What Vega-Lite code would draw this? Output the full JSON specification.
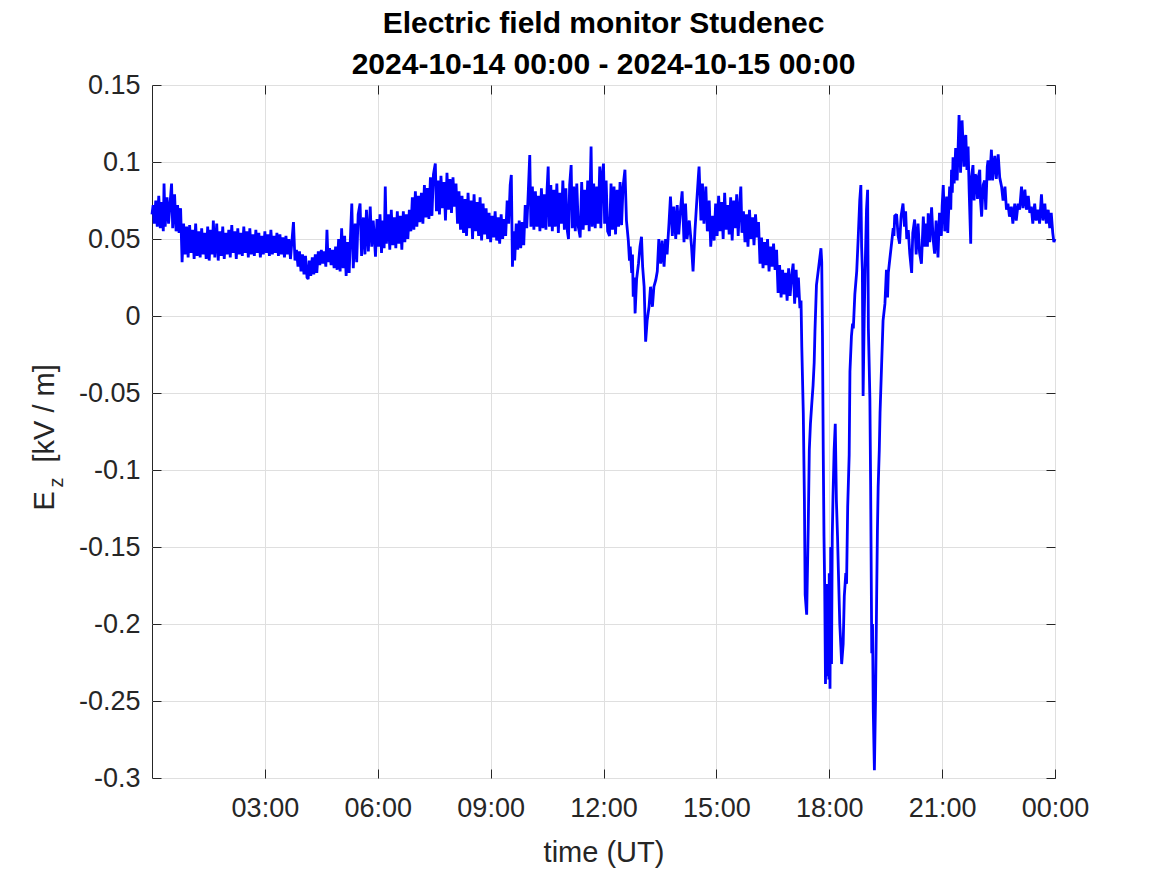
{
"$schema":"https://vega.github.io/schema/vega-lite/v6.json",
"width":903,"height":693,
"autosize":{"type":"none"},
"padding":{"left":152,"top":85,"right":112,"bottom":97},
"background":"white",
"config":{"view":{"stroke":"#262626","strokeWidth":1},"font":"Liberation Sans"},
"title":{"text":["Electric field monitor Studenec","2024-10-14 00:00 - 2024-10-15 00:00"],"font":"Liberation Sans","fontSize":30,"fontWeight":"bold","color":"#000000","lineHeight":41,"anchor":"middle","offset":-9},
"data":{"values":[
{"hour":0,"ez":0.066},{"hour":0.03,"ez":0.072},{"hour":0.06,"ez":0.06},{"hour":0.1,"ez":0.075},{"hour":0.14,"ez":0.058},{"hour":0.18,"ez":0.078},{"hour":0.22,"ez":0.057},{"hour":0.26,"ez":0.074},{"hour":0.3,"ez":0.055},{"hour":0.32,"ez":0.086},{"hour":0.35,"ez":0.058},{"hour":0.4,"ez":0.077},{"hour":0.44,"ez":0.06},{"hour":0.48,"ez":0.073},{"hour":0.52,"ez":0.086},{"hour":0.55,"ez":0.057},{"hour":0.6,"ez":0.079},{"hour":0.64,"ez":0.055},{"hour":0.68,"ez":0.072},{"hour":0.72,"ez":0.054},{"hour":0.76,"ez":0.07},{"hour":0.8,"ez":0.035},{"hour":0.84,"ez":0.06},
{"hour":0.88,"ez":0.04},{"hour":0.92,"ez":0.058},{"hour":0.96,"ez":0.038},{"hour":1.0,"ez":0.059},{"hour":1.04,"ez":0.041},{"hour":1.08,"ez":0.056},{"hour":1.12,"ez":0.037},{"hour":1.16,"ez":0.06},{"hour":1.2,"ez":0.039},{"hour":1.24,"ez":0.055},{"hour":1.28,"ez":0.038},{"hour":1.32,"ez":0.057},{"hour":1.36,"ez":0.04},{"hour":1.4,"ez":0.054},{"hour":1.44,"ez":0.037},{"hour":1.48,"ez":0.058},{"hour":1.52,"ez":0.036},{"hour":1.56,"ez":0.056},{"hour":1.6,"ez":0.04},{"hour":1.63,"ez":0.062},{"hour":1.67,"ez":0.038},{"hour":1.72,"ez":0.06},{"hour":1.76,"ez":0.036},{"hour":1.8,"ez":0.055},{"hour":1.84,"ez":0.039},{"hour":1.88,"ez":0.058},{"hour":1.92,"ez":0.037},{"hour":1.96,"ez":0.054},{"hour":2.0,"ez":0.04},{"hour":2.04,"ez":0.056},{"hour":2.08,"ez":0.038},{"hour":2.12,"ez":0.059},{"hour":2.16,"ez":0.041},{"hour":2.2,"ez":0.055},{"hour":2.24,"ez":0.037},{"hour":2.28,"ez":0.057},{"hour":2.32,"ez":0.04},{"hour":2.36,"ez":0.054},{"hour":2.4,"ez":0.039},{"hour":2.44,"ez":0.058},{"hour":2.48,"ez":0.041},{"hour":2.52,"ez":0.055},{"hour":2.56,"ez":0.038},{"hour":2.6,"ez":0.057},{"hour":2.64,"ez":0.04},{"hour":2.68,"ez":0.053},{"hour":2.72,"ez":0.039},{"hour":2.76,"ez":0.056},{"hour":2.8,"ez":0.041},{"hour":2.84,"ez":0.054},{"hour":2.88,"ez":0.038},{"hour":2.92,"ez":0.052},{"hour":2.96,"ez":0.04},
{"hour":3.0,"ez":0.055},{"hour":3.04,"ez":0.041},{"hour":3.08,"ez":0.053},{"hour":3.12,"ez":0.039},{"hour":3.16,"ez":0.056},{"hour":3.2,"ez":0.04},{"hour":3.24,"ez":0.052},{"hour":3.28,"ez":0.041},{"hour":3.32,"ez":0.054},{"hour":3.36,"ez":0.039},{"hour":3.4,"ez":0.053},{"hour":3.44,"ez":0.04},{"hour":3.48,"ez":0.051},{"hour":3.52,"ez":0.038},{"hour":3.56,"ez":0.052},{"hour":3.6,"ez":0.04},{"hour":3.64,"ez":0.05},{"hour":3.68,"ez":0.037},{"hour":3.72,"ez":0.049},{"hour":3.76,"ez":0.061},{"hour":3.8,"ez":0.036},
{"hour":3.84,"ez":0.043},{"hour":3.88,"ez":0.032},{"hour":3.92,"ez":0.042},{"hour":3.96,"ez":0.029},{"hour":4.0,"ez":0.04},{"hour":4.04,"ez":0.027},{"hour":4.08,"ez":0.039},{"hour":4.12,"ez":0.025},{"hour":4.15,"ez":0.024},{"hour":4.18,"ez":0.036},{"hour":4.22,"ez":0.026},{"hour":4.26,"ez":0.038},{"hour":4.3,"ez":0.027},{"hour":4.34,"ez":0.04},{"hour":4.38,"ez":0.028},
{"hour":4.42,"ez":0.042},{"hour":4.46,"ez":0.033},{"hour":4.5,"ez":0.043},{"hour":4.54,"ez":0.034},{"hour":4.58,"ez":0.042},{"hour":4.62,"ez":0.032},{"hour":4.65,"ez":0.056},{"hour":4.68,"ez":0.035},{"hour":4.72,"ez":0.044},{"hour":4.76,"ez":0.033},{"hour":4.8,"ez":0.043},{"hour":4.84,"ez":0.031},{"hour":4.88,"ez":0.045},
{"hour":4.92,"ez":0.03},{"hour":4.96,"ez":0.05},{"hour":5.0,"ez":0.029},{"hour":5.04,"ez":0.057},{"hour":5.08,"ez":0.031},{"hour":5.12,"ez":0.052},{"hour":5.16,"ez":0.026},{"hour":5.2,"ez":0.048},{"hour":5.24,"ez":0.028},{"hour":5.28,"ez":0.055},
{"hour":5.31,"ez":0.073},{"hour":5.35,"ez":0.031},{"hour":5.4,"ez":0.06},{"hour":5.44,"ez":0.035},{"hour":5.48,"ez":0.066},{"hour":5.53,"ez":0.073},{"hour":5.57,"ez":0.039},{"hour":5.62,"ez":0.064},{"hour":5.66,"ez":0.04},{"hour":5.7,"ez":0.069},{"hour":5.75,"ez":0.042},{"hour":5.8,"ez":0.071},{"hour":5.84,"ez":0.045},{"hour":5.88,"ez":0.062},{"hour":5.94,"ez":0.0385},
{"hour":5.98,"ez":0.063},{"hour":6.02,"ez":0.045},{"hour":6.06,"ez":0.066},{"hour":6.1,"ez":0.041},{"hour":6.14,"ez":0.062},{"hour":6.17,"ez":0.044},{"hour":6.2,"ez":0.084},{"hour":6.23,"ez":0.047},{"hour":6.28,"ez":0.066},{"hour":6.32,"ez":0.043},{"hour":6.36,"ez":0.069},{"hour":6.4,"ez":0.046},{"hour":6.44,"ez":0.064},{"hour":6.48,"ez":0.044},{"hour":6.52,"ez":0.068},{"hour":6.56,"ez":0.047},{"hour":6.6,"ez":0.065},{"hour":6.64,"ez":0.043},{"hour":6.68,"ez":0.068},{"hour":6.72,"ez":0.048},{"hour":6.76,"ez":0.066},{"hour":6.8,"ez":0.05},{"hour":6.84,"ez":0.069},
{"hour":6.88,"ez":0.055},{"hour":6.92,"ez":0.077},{"hour":6.96,"ez":0.056},{"hour":7.0,"ez":0.081},{"hour":7.04,"ez":0.058},{"hour":7.08,"ez":0.078},{"hour":7.12,"ez":0.061},{"hour":7.16,"ez":0.08},{"hour":7.2,"ez":0.06},{"hour":7.24,"ez":0.085},{"hour":7.28,"ez":0.064},{"hour":7.32,"ez":0.083},{"hour":7.36,"ez":0.063},
{"hour":7.4,"ez":0.09},{"hour":7.44,"ez":0.065},{"hour":7.48,"ez":0.092},{"hour":7.53,"ez":0.099},{"hour":7.56,"ez":0.068},{"hour":7.6,"ez":0.088},{"hour":7.64,"ez":0.066},{"hour":7.68,"ez":0.091},{"hour":7.72,"ez":0.07},{"hour":7.76,"ez":0.087},{"hour":7.8,"ez":0.062},{"hour":7.84,"ez":0.093},{"hour":7.88,"ez":0.069},{"hour":7.92,"ez":0.089},{"hour":7.96,"ez":0.067},{"hour":8.0,"ez":0.09},{"hour":8.04,"ez":0.071},{"hour":8.08,"ez":0.086},
{"hour":8.12,"ez":0.06},{"hour":8.16,"ez":0.081},{"hour":8.2,"ez":0.056},{"hour":8.24,"ez":0.078},{"hour":8.28,"ez":0.054},{"hour":8.32,"ez":0.076},{"hour":8.36,"ez":0.052},{"hour":8.4,"ez":0.08},{"hour":8.44,"ez":0.057},{"hour":8.48,"ez":0.075},{"hour":8.52,"ez":0.05},{"hour":8.56,"ez":0.079},{"hour":8.6,"ez":0.055},{"hour":8.64,"ez":0.074},{"hour":8.68,"ez":0.052},{"hour":8.72,"ez":0.077},{"hour":8.76,"ez":0.049},{"hour":8.8,"ez":0.073},{"hour":8.84,"ez":0.053},{"hour":8.88,"ez":0.07},
{"hour":8.92,"ez":0.05},{"hour":8.96,"ez":0.067},{"hour":9.0,"ez":0.048},{"hour":9.04,"ez":0.065},{"hour":9.08,"ez":0.051},{"hour":9.12,"ez":0.068},{"hour":9.16,"ez":0.049},{"hour":9.2,"ez":0.064},{"hour":9.24,"ez":0.047},{"hour":9.28,"ez":0.066},{"hour":9.32,"ez":0.05},{"hour":9.36,"ez":0.063},{"hour":9.4,"ez":0.052},{"hour":9.44,"ez":0.075},{"hour":9.48,"ez":0.06},{"hour":9.52,"ez":0.085},{"hour":9.55,"ez":0.0916},{"hour":9.58,"ez":0.032},{"hour":9.61,"ez":0.055},{"hour":9.64,"ez":0.036},{"hour":9.68,"ez":0.06},{"hour":9.72,"ez":0.043},{"hour":9.76,"ez":0.062},{"hour":9.8,"ez":0.044},{"hour":9.84,"ez":0.061},{"hour":9.88,"ez":0.046},
{"hour":9.92,"ez":0.072},{"hour":9.96,"ez":0.057},{"hour":10.0,"ez":0.08},{"hour":10.04,"ez":0.1045},{"hour":10.07,"ez":0.058},{"hour":10.11,"ez":0.084},{"hour":10.15,"ez":0.056},{"hour":10.19,"ez":0.081},{"hour":10.23,"ez":0.058},{"hour":10.27,"ez":0.078},{"hour":10.31,"ez":0.055},{"hour":10.35,"ez":0.083},{"hour":10.39,"ez":0.057},{"hour":10.43,"ez":0.079},{"hour":10.47,"ez":0.056},{"hour":10.5,"ez":0.082},{"hour":10.53,"ez":0.097},{"hour":10.56,"ez":0.058},
{"hour":10.6,"ez":0.085},{"hour":10.64,"ez":0.055},{"hour":10.68,"ez":0.082},{"hour":10.72,"ez":0.058},{"hour":10.76,"ez":0.086},{"hour":10.8,"ez":0.054},{"hour":10.84,"ez":0.08},{"hour":10.88,"ez":0.06},{"hour":10.92,"ez":0.088},{"hour":10.96,"ez":0.056},{"hour":11.0,"ez":0.083},{"hour":11.04,"ez":0.055},{"hour":11.07,"ez":0.05},{"hour":11.1,"ez":0.085},{"hour":11.14,"ez":0.098},{"hour":11.17,"ez":0.057},{"hour":11.21,"ez":0.084},{"hour":11.25,"ez":0.055},{"hour":11.29,"ez":0.086},{"hour":11.33,"ez":0.058},{"hour":11.38,"ez":0.051},{"hour":11.42,"ez":0.087},{"hour":11.46,"ez":0.056},{"hour":11.5,"ez":0.082},{"hour":11.54,"ez":0.059},{"hour":11.58,"ez":0.088},{"hour":11.62,"ez":0.055},{"hour":11.67,"ez":0.11},{"hour":11.7,"ez":0.058},{"hour":11.74,"ez":0.086},{"hour":11.78,"ez":0.057},{"hour":11.82,"ez":0.084},{"hour":11.86,"ez":0.06},{"hour":11.9,"ez":0.097},{"hour":11.93,"ez":0.057},{"hour":11.96,"ez":0.09},
{"hour":12.0,"ez":0.099},{"hour":12.03,"ez":0.06},{"hour":12.07,"ez":0.088},{"hour":12.11,"ez":0.055},{"hour":12.16,"ez":0.052},{"hour":12.2,"ez":0.086},{"hour":12.24,"ez":0.056},{"hour":12.28,"ez":0.084},{"hour":12.32,"ez":0.053},{"hour":12.36,"ez":0.082},{"hour":12.4,"ez":0.058},{"hour":12.44,"ez":0.087},{"hour":12.48,"ez":0.059},{"hour":12.52,"ez":0.084},{"hour":12.57,"ez":0.095},{"hour":12.61,"ez":0.062},
{"hour":12.66,"ez":0.049},{"hour":12.69,"ez":0.036},{"hour":12.71,"ez":0.045},{"hour":12.75,"ez":0.028},{"hour":12.77,"ez":0.04},{"hour":12.79,"ez":0.0125},{"hour":12.82,"ez":0.025},{"hour":12.84,"ez":0.0017},{"hour":12.88,"ez":0.024},{"hour":12.93,"ez":0.034},{"hour":12.97,"ez":0.045},{"hour":13.01,"ez":0.0515},{"hour":13.04,"ez":0.032},{"hour":13.08,"ez":0.019},{"hour":13.12,"ez":-0.0167},{"hour":13.16,"ez":-0.003},{"hour":13.21,"ez":0.006},{"hour":13.25,"ez":0.019},{"hour":13.3,"ez":0.006},{"hour":13.34,"ez":0.019},{"hour":13.39,"ez":0.0234},{"hour":13.43,"ez":0.029},{"hour":13.47,"ez":0.05},{"hour":13.52,"ez":0.034},{"hour":13.56,"ez":0.049},{"hour":13.61,"ez":0.032},{"hour":13.65,"ez":0.05},{"hour":13.69,"ez":0.04},{"hour":13.74,"ez":0.06},{"hour":13.78,"ez":0.0775},{"hour":13.83,"ez":0.052},{"hour":13.87,"ez":0.071},{"hour":13.92,"ez":0.05},{"hour":13.96,"ez":0.072},{"hour":14.0,"ez":0.053},{"hour":14.05,"ez":0.07},{"hour":14.09,"ez":0.081},{"hour":14.14,"ez":0.048},{"hour":14.18,"ez":0.073},{"hour":14.22,"ez":0.05},{"hour":14.28,"ez":0.062},{"hour":14.34,"ez":0.045},{"hour":14.38,"ez":0.029},{"hour":14.43,"ez":0.055},{"hour":14.47,"ez":0.071},{"hour":14.52,"ez":0.09},{"hour":14.54,"ez":0.097},{"hour":14.59,"ez":0.062},{"hour":14.63,"ez":0.086},{"hour":14.67,"ez":0.06},{"hour":14.72,"ez":0.084},{"hour":14.76,"ez":0.055},{"hour":14.81,"ez":0.075},{"hour":14.85,"ez":0.045},{"hour":14.9,"ez":0.065},{"hour":14.94,"ez":0.049},
{"hour":14.98,"ez":0.073},{"hour":15.02,"ez":0.052},{"hour":15.06,"ez":0.078},{"hour":15.1,"ez":0.055},{"hour":15.14,"ez":0.074},{"hour":15.18,"ez":0.05},{"hour":15.22,"ez":0.08},{"hour":15.26,"ez":0.056},{"hour":15.3,"ez":0.072},{"hour":15.34,"ez":0.053},{"hour":15.38,"ez":0.077},{"hour":15.42,"ez":0.049},{"hour":15.46,"ez":0.075},{"hour":15.5,"ez":0.057},{"hour":15.54,"ez":0.079},{"hour":15.58,"ez":0.052},{"hour":15.62,"ez":0.073},{"hour":15.65,"ez":0.084},{"hour":15.68,"ez":0.054},
{"hour":15.72,"ez":0.068},{"hour":15.76,"ez":0.048},{"hour":15.8,"ez":0.066},{"hour":15.84,"ez":0.045},{"hour":15.88,"ez":0.069},{"hour":15.92,"ez":0.05},{"hour":15.96,"ez":0.064},{"hour":16.0,"ez":0.046},{"hour":16.04,"ez":0.066},{"hour":16.08,"ez":0.051},{"hour":16.12,"ez":0.061},
{"hour":16.16,"ez":0.034},{"hour":16.2,"ez":0.051},{"hour":16.24,"ez":0.031},{"hour":16.28,"ez":0.048},{"hour":16.32,"ez":0.033},{"hour":16.36,"ez":0.05},{"hour":16.4,"ez":0.029},{"hour":16.44,"ez":0.045},{"hour":16.48,"ez":0.032},{"hour":16.52,"ez":0.047},{"hour":16.56,"ez":0.03},{"hour":16.6,"ez":0.043},
{"hour":16.64,"ez":0.015},{"hour":16.68,"ez":0.033},{"hour":16.72,"ez":0.012},{"hour":16.76,"ez":0.03},{"hour":16.8,"ez":0.014},{"hour":16.84,"ez":0.028},{"hour":16.88,"ez":0.01},{"hour":16.92,"ez":0.031},{"hour":16.96,"ez":0.013},{"hour":17.0,"ez":0.026},{"hour":17.04,"ez":0.034},{"hour":17.08,"ez":0.008},{"hour":17.12,"ez":0.03},{"hour":17.15,"ez":0.012},{"hour":17.18,"ez":0.025},{"hour":17.22,"ez":0.005},
{"hour":17.25,"ez":0.01},{"hour":17.27,"ez":-0.02},{"hour":17.31,"ez":-0.063},{"hour":17.34,"ez":-0.12},{"hour":17.36,"ez":-0.181},{"hour":17.4,"ez":-0.194},{"hour":17.44,"ez":-0.139},{"hour":17.47,"ez":-0.087},{"hour":17.5,"ez":-0.07},{"hour":17.53,"ez":-0.059},{"hour":17.57,"ez":-0.045},{"hour":17.6,"ez":-0.03},{"hour":17.62,"ez":-0.01},{"hour":17.66,"ez":0.02},{"hour":17.71,"ez":0.03},{"hour":17.75,"ez":0.038},{"hour":17.78,"ez":0.044},{"hour":17.8,"ez":0.035},{"hour":17.82,"ez":-0.013},{"hour":17.84,"ez":-0.087},{"hour":17.86,"ez":-0.143},{"hour":17.88,"ez":-0.178},{"hour":17.9,"ez":-0.239},{"hour":17.93,"ez":-0.174},{"hour":17.95,"ez":-0.234},{"hour":17.97,"ez":-0.182},{"hour":17.99,"ez":-0.236},{"hour":18.0,"ez":-0.167},{"hour":18.02,"ez":-0.242},{"hour":18.04,"ez":-0.15},{"hour":18.06,"ez":-0.226},{"hour":18.08,"ez":-0.143},{"hour":18.1,"ez":-0.117},{"hour":18.13,"ez":-0.087},{"hour":18.16,"ez":-0.07},{"hour":18.19,"ez":-0.12},{"hour":18.22,"ez":-0.143},{"hour":18.24,"ez":-0.163},{"hour":18.28,"ez":-0.2},{"hour":18.31,"ez":-0.215},{"hour":18.33,"ez":-0.226},{"hour":18.37,"ez":-0.213},{"hour":18.4,"ez":-0.182},{"hour":18.44,"ez":-0.167},{"hour":18.46,"ez":-0.174},{"hour":18.49,"ez":-0.124},{"hour":18.53,"ez":-0.09},{"hour":18.55,"ez":-0.036},{"hour":18.59,"ez":-0.013},{"hour":18.62,"ez":-0.005},{"hour":18.64,"ez":-0.008},{"hour":18.68,"ez":0.014},{"hour":18.73,"ez":0.029},{"hour":18.77,"ez":0.051},{"hour":18.81,"ez":0.075},{"hour":18.84,"ez":0.085},{"hour":18.86,"ez":0.045},{"hour":18.88,"ez":0.03},{"hour":18.9,"ez":-0.052},{"hour":18.93,"ez":0.0},{"hour":18.95,"ez":0.026},{"hour":18.99,"ez":0.069},{"hour":19.02,"ez":0.082},{"hour":19.04,"ez":-0.008},{"hour":19.06,"ez":-0.03},{"hour":19.08,"ez":-0.054},{"hour":19.1,"ez":-0.11},{"hour":19.13,"ez":-0.219},{"hour":19.15,"ez":-0.2},{"hour":19.17,"ez":-0.256},{"hour":19.2,"ez":-0.295},{"hour":19.23,"ez":-0.249},{"hour":19.26,"ez":-0.182},{"hour":19.28,"ez":-0.14},{"hour":19.3,"ez":-0.111},{"hour":19.33,"ez":-0.087},{"hour":19.35,"ez":-0.063},{"hour":19.39,"ez":-0.033},{"hour":19.43,"ez":-0.003},{"hour":19.48,"ez":0.008},{"hour":19.52,"ez":0.03},{"hour":19.55,"ez":0.012},{"hour":19.57,"ez":0.028},{"hour":19.61,"ez":0.037},{"hour":19.66,"ez":0.048},{"hour":19.7,"ez":0.057},{"hour":19.72,"ez":0.052},{"hour":19.74,"ez":0.065},
{"hour":19.79,"ez":0.066},{"hour":19.83,"ez":0.052},{"hour":19.87,"ez":0.047},{"hour":19.91,"ez":0.065},{"hour":19.96,"ez":0.073},{"hour":20.0,"ez":0.058},{"hour":20.03,"ez":0.068},{"hour":20.06,"ez":0.05},{"hour":20.1,"ez":0.0558},{"hour":20.14,"ez":0.0405},{"hour":20.19,"ez":0.028},{"hour":20.22,"ez":0.054},{"hour":20.27,"ez":0.0627},{"hour":20.31,"ez":0.04},{"hour":20.36,"ez":0.06},{"hour":20.4,"ez":0.041},{"hour":20.45,"ez":0.034},{"hour":20.5,"ez":0.0645},{"hour":20.54,"ez":0.045},{"hour":20.58,"ez":0.06},{"hour":20.61,"ez":0.045},{"hour":20.63,"ez":0.0667},{"hour":20.67,"ez":0.048},{"hour":20.72,"ez":0.0705},{"hour":20.76,"ez":0.05},{"hour":20.8,"ez":0.0405},{"hour":20.84,"ez":0.062},{"hour":20.89,"ez":0.038},{"hour":20.93,"ez":0.067},{"hour":20.98,"ez":0.052},{"hour":21.0,"ez":0.071},{"hour":21.03,"ez":0.085},{"hour":21.07,"ez":0.055},{"hour":21.12,"ez":0.0775},{"hour":21.15,"ez":0.054},{"hour":21.2,"ez":0.084},{"hour":21.23,"ez":0.069},{"hour":21.25,"ez":0.095},{"hour":21.27,"ez":0.08},{"hour":21.29,"ez":0.103},{"hour":21.32,"ez":0.086},{"hour":21.36,"ez":0.109},{"hour":21.4,"ez":0.088},{"hour":21.45,"ez":0.1305},{"hour":21.49,"ez":0.093},{"hour":21.53,"ez":0.127},{"hour":21.58,"ez":0.097},{"hour":21.6,"ez":0.115},{"hour":21.63,"ez":0.1175},{"hour":21.66,"ez":0.0948},{"hour":21.69,"ez":0.11},{"hour":21.72,"ez":0.08},{"hour":21.76,"ez":0.047},{"hour":21.78,"ez":0.09},{"hour":21.82,"ez":0.098},{"hour":21.85,"ez":0.075},{"hour":21.88,"ez":0.092},{"hour":21.91,"ez":0.09},{"hour":21.94,"ez":0.076},{"hour":21.97,"ez":0.091},{"hour":22.0,"ez":0.095},{"hour":22.02,"ez":0.075},{"hour":22.05,"ez":0.0645},{"hour":22.09,"ez":0.085},{"hour":22.13,"ez":0.088},{"hour":22.16,"ez":0.069},{"hour":22.2,"ez":0.097},{"hour":22.22,"ez":0.101},{"hour":22.26,"ez":0.088},{"hour":22.31,"ez":0.108},{"hour":22.34,"ez":0.088},{"hour":22.38,"ez":0.099},{"hour":22.4,"ez":0.104},{"hour":22.44,"ez":0.089},{"hour":22.49,"ez":0.105},{"hour":22.53,"ez":0.09},{"hour":22.58,"ez":0.084},{"hour":22.62,"ez":0.075},{"hour":22.67,"ez":0.084},{"hour":22.71,"ez":0.069},{"hour":22.75,"ez":0.073},{"hour":22.79,"ez":0.0645},{"hour":22.84,"ez":0.071},{"hour":22.88,"ez":0.06},{"hour":22.93,"ez":0.073},{"hour":22.97,"ez":0.062},{"hour":23.02,"ez":0.073},{"hour":23.06,"ez":0.069},{"hour":23.11,"ez":0.084},{"hour":23.15,"ez":0.07},{"hour":23.2,"ez":0.082},{"hour":23.24,"ez":0.069},{"hour":23.29,"ez":0.078},{"hour":23.33,"ez":0.067},{"hour":23.37,"ez":0.071},{"hour":23.41,"ez":0.06},{"hour":23.46,"ez":0.073},{"hour":23.5,"ez":0.062},{"hour":23.55,"ez":0.069},{"hour":23.59,"ez":0.06},{"hour":23.64,"ez":0.079},{"hour":23.68,"ez":0.062},{"hour":23.73,"ez":0.073},{"hour":23.77,"ez":0.06},{"hour":23.82,"ez":0.069},{"hour":23.86,"ez":0.057},{"hour":23.9,"ez":0.067},{"hour":23.94,"ez":0.054},{"hour":23.97,"ez":0.048},{"hour":24.0,"ez":0.05}
]},
"layer":[
{"mark":{"type":"line","strokeOpacity":0},
 "encoding":{
  "x":{"field":"hour","type":"quantitative","scale":{"domain":[0,24],"nice":false,"zero":false},"axis":{"orient":"top","values":[3,6,9,12,15,18,21,24],"labels":false,"grid":false,"domain":false,"tickSize":-9,"tickColor":"#262626","title":null}},
  "y":{"field":"ez","type":"quantitative","scale":{"domain":[-0.3,0.15],"nice":false,"zero":false},"axis":{"orient":"right","values":[-0.3,-0.25,-0.2,-0.15,-0.1,-0.05,0,0.05,0.1,0.15],"labels":false,"grid":false,"domain":false,"tickSize":-9,"tickColor":"#262626","title":null}}}},
{"mark":{"type":"line","strokeOpacity":0},
 "encoding":{
  "x":{"field":"hour","type":"quantitative","axis":null},
  "y":{"field":"ez","type":"quantitative","axis":{"orient":"left","labels":false,"ticks":false,"grid":false,"domain":false,"title":"z","titleFont":"Liberation Sans","titleFontSize":20,"titleFontWeight":"normal","titleColor":"#262626","titleAngle":-90,"titleAlign":"left","titleBaseline":"alphabetic","titleX":-90,"titleY":402}}}},
{"mark":{"type":"line","strokeOpacity":0},
 "encoding":{
  "x":{"field":"hour","type":"quantitative","axis":null},
  "y":{"field":"ez","type":"quantitative","axis":{"orient":"left","labels":false,"ticks":false,"grid":false,"domain":false,"title":"[kV / m]","titleFont":"Liberation Sans","titleFontSize":29,"titleFontWeight":"normal","titleColor":"#262626","titleAngle":-90,"titleAlign":"left","titleBaseline":"alphabetic","titleX":-99,"titleY":377}}}},
{"mark":{"type":"line","color":"#0000ff","strokeWidth":2.8,"strokeJoin":"miter","strokeMiterLimit":2},
 "encoding":{
  "x":{"field":"hour","type":"quantitative","title":"time (UT)","axis":{"orient":"bottom","values":[3,6,9,12,15,18,21,24],"labelExpr":"(datum.value % 24 < 10 ? '0' : '') + (datum.value % 24) + ':00'","grid":true,"gridColor":"#dfdfdf","gridWidth":1,"domain":false,"tickSize":-9,"tickColor":"#262626","labelFont":"Liberation Sans","labelFontSize":27,"labelColor":"#262626","labelPadding":26,"labelFlush":false,"labelOverlap":false,"titleFont":"Liberation Sans","titleFontSize":29,"titleFontWeight":"normal","titleColor":"#262626","titlePadding":17}},
  "y":{"field":"ez","type":"quantitative","axis":{"orient":"left","values":[-0.3,-0.25,-0.2,-0.15,-0.1,-0.05,0,0.05,0.1,0.15],"labelExpr":"'' + round(datum.value*100)/100","grid":true,"gridColor":"#dfdfdf","gridWidth":1,"domain":false,"tickSize":-9,"tickColor":"#262626","labelFont":"Liberation Sans","labelFontSize":27,"labelColor":"#262626","labelPadding":21,"labelFlush":false,"labelOverlap":false,"title":"E","titleFont":"Liberation Sans","titleFontSize":29,"titleFontWeight":"normal","titleColor":"#262626","titleAngle":-90,"titleAlign":"left","titleBaseline":"alphabetic","titleX":-99,"titleY":425}}}}
],
"resolve":{"axis":{"x":"independent","y":"independent"}}
}
